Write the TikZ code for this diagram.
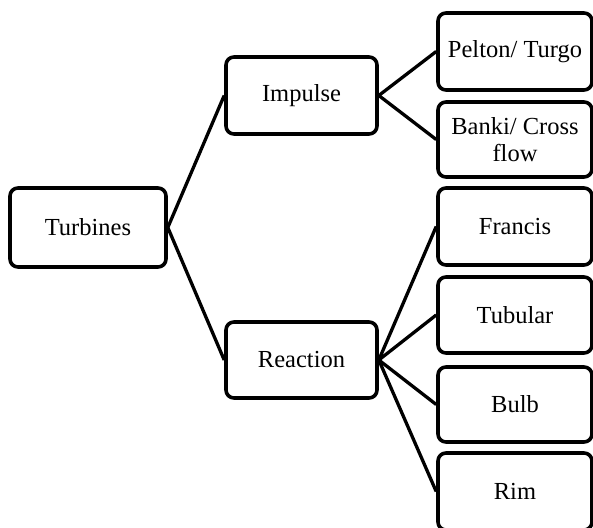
\documentclass[tikz,border=0pt]{standalone}
\usepackage{fontspec}
\setmainfont{Liberation Serif}
\begin{document}
\begin{tikzpicture}[x=1pt,y=-1pt,
  box/.style={draw=black, line width=3.6pt, rounded corners=8pt, fill=white,
    inner sep=0pt, align=center, font=\fontsize{24.5}{27}\selectfont},
  conn/.style={line width=3.3pt}]
\useasboundingbox (0,0) rectangle (593,527);
\node[box, minimum width=156pt, minimum height=79pt] (turb) at (88,227.5) {Turbines};
\node[box, minimum width=151pt, minimum height=77pt] (imp) at (301.5,95.5) {Impulse};
\node[box, minimum width=151pt, minimum height=76pt] (rea) at (301.5,360) {Reaction};
\node[box, minimum width=154pt, minimum height=77pt] (pel) at (515,51.5) {Pelton/ Turgo};
\node[box, minimum width=154pt, minimum height=75pt] (ban) at (515,139.5) {Banki/ Cross\\flow};
\node[box, minimum width=154pt, minimum height=77pt] (fra) at (515,226.5) {Francis};
\node[box, minimum width=154pt, minimum height=76pt] (tub) at (515,315) {Tubular};
\node[box, minimum width=154pt, minimum height=75pt] (bul) at (515,404.5) {Bulb};
\node[box, minimum width=154pt, minimum height=77pt] (rim) at (515,491.5) {Rim};
\draw[conn] (turb.east) -- (imp.west);
\draw[conn] (turb.east) -- (rea.west);
\draw[conn] (imp.east) -- (pel.west);
\draw[conn] (imp.east) -- (ban.west);
\draw[conn] (rea.east) -- (fra.west);
\draw[conn] (rea.east) -- (tub.west);
\draw[conn] (rea.east) -- (bul.west);
\draw[conn] (rea.east) -- (rim.west);
\end{tikzpicture}
\end{document}
